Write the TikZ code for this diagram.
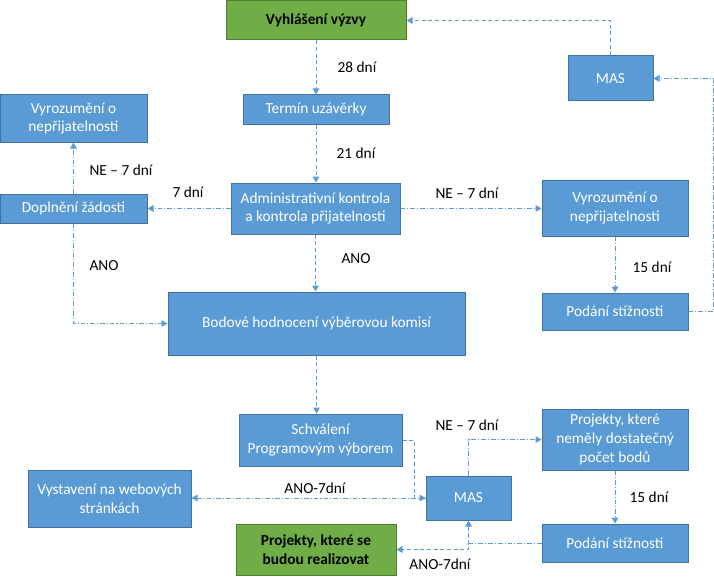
\documentclass[tikz,border=0pt]{standalone}
\usepackage{fontspec}
\setmainfont{Carlito}
\usetikzlibrary{arrows.meta}
\definecolor{bfill}{HTML}{5B9BD5}
\definecolor{bdraw}{HTML}{41719C}
\definecolor{gfill}{HTML}{70AD47}
\definecolor{gdraw}{HTML}{507E32}
\definecolor{lcol}{HTML}{5B9BD5}
\tikzset{
  box/.style={draw=bdraw, fill=bfill, text=white, line width=0.75pt, align=center, inner sep=1pt,
    font=\fontsize{11.5}{14}\selectfont},
  gbox/.style={draw=gdraw, fill=gfill, text=black, line width=0.75pt, align=center, inner sep=1pt,
    font=\fontsize{11.5}{14}\selectfont\bfseries},
  lbl/.style={text=black, font=\fontsize{11.5}{14}\selectfont, inner sep=0pt},
  tip/.style={-{Triangle[width=5pt,length=4.5pt]}},
  dsh/.style={draw=lcol, line width=0.75pt, dash pattern=on 3pt off 2pt, tip},
  dd/.style={draw=lcol, line width=0.75pt, dash pattern=on 3.5pt off 1.5pt on 0.8pt off 1.5pt, tip},
}
\begin{document}
\begin{tikzpicture}[x=0.75pt,y=-0.75pt]
\useasboundingbox (0,0) rectangle (714,585);
% nodes
\node[gbox, minimum width=180*0.75pt, minimum height=39*0.75pt] (vyz) at (316,20.5) {Vyhlášení výzvy};
\node[box, minimum width=146*0.75pt, minimum height=29*0.75pt] (term) at (316,109.5) {Termín uzávěrky};
\node[box, minimum width=85*0.75pt, minimum height=45*0.75pt] (mas1) at (610.5,78.5) {MAS};
\node[box, minimum width=147*0.75pt, minimum height=47*0.75pt] (vyrL) at (73.5,118.5) {Vyrozumění o\\nepřijatelnosti};
\node[box, minimum width=147*0.75pt, minimum height=29*0.75pt] (dopl) at (73.5,208.5) {Doplnění žádosti};
\node[box, minimum width=169*0.75pt, minimum height=51*0.75pt] (adm) at (315.5,208.5) {Administrativní kontrola\\a kontrola přijatelnosti};
\node[box, minimum width=146*0.75pt, minimum height=56*0.75pt] (vyrR) at (615,208) {Vyrozumění o\\nepřijatelnosti};
\node[box, minimum width=146*0.75pt, minimum height=37*0.75pt] (pod1) at (615,311.5) {Podání stížnosti};
\node[box, minimum width=297*0.75pt, minimum height=63*0.75pt] (bod) at (316.5,323.5) {Bodové hodnocení výběrovou komisí};
\node[box, minimum width=163*0.75pt, minimum height=52*0.75pt] (sch) at (320.5,440) {Schválení\\Programovým výborem};
\node[box, minimum width=163*0.75pt, minimum height=57*0.75pt] (vys) at (109.5,498.5) {Vystavení na webových\\stránkách};
\node[gbox, minimum width=160*0.75pt, minimum height=51*0.75pt] (real) at (316,549.5) {Projekty, které se\\budou realizovat};
\node[box, minimum width=85*0.75pt, minimum height=44*0.75pt] (mas2) at (468.5,498) {MAS};
\node[box, minimum width=146*0.75pt, minimum height=61*0.75pt] (proj) at (615,439.5) {Projekty, které\\neměly dostatečný\\počet bodů};
\node[box, minimum width=146*0.75pt, minimum height=38*0.75pt] (pod2) at (615,543) {Podání stížnosti};
% connectors
\draw[dsh] (vyz.south) -- (term.north);
\draw[dsh] (term.south) -- (term.south |- adm.north);
\draw[dd] (adm.west) -- (dopl.east);
\draw[dd] (dopl.north) -- (vyrL.south);
\draw[dd] (dopl.south) |- (bod.west);
\draw[dsh] (adm.south) -- (adm.south |- bod.north);
\draw[dd] (adm.east) -- (vyrR.west |- adm.east);
\draw[dd] (vyrR.south) -- (pod1.north);
\coordinate (rt) at (713,311.5);
\draw[dd] (pod1.east) -- (rt) |- (mas1.east);
\draw[dsh] (mas1.north) |- (vyz.east);
\draw[dsh] (bod.south) -- (bod.south |- sch.north);
\coordinate (sk) at (414,440);
\draw[dsh] (sch.east) -- (sk) |- (mas2.west);
\draw[dd] (mas2.west) -- (vys.east |- mas2.west);
\draw[dd] (mas2.north) |- (proj.west);
\draw[dd] (proj.south) -- (pod2.north);
\draw[dd] (pod2.west) -| (mas2.south);
\draw[dsh] (mas2.south) |- (real.east);
% labels
\node[lbl] (l1) at (357,67) {28 dní};
\node[lbl] (l2) at (356,153) {21 dní};
\node[lbl] (l3) at (188,192) {7 dní};
\node[lbl] (l4) at (121,170) {NE – 7 dní};
\node[lbl] (l5) at (104,266) {ANO};
\node[lbl] (l6) at (356,259) {ANO};
\node[lbl] (l7) at (467,193) {NE – 7 dní};
\node[lbl] (l8) at (652,267) {15 dní};
\node[lbl] (l9) at (315,488) {ANO-7dní};
\node[lbl] (l10) at (467,425) {NE – 7 dní};
\node[lbl] (l11) at (649,497) {15 dní};
\node[lbl] (l12) at (440,564) {ANO-7dní};
\end{tikzpicture}
\end{document}
